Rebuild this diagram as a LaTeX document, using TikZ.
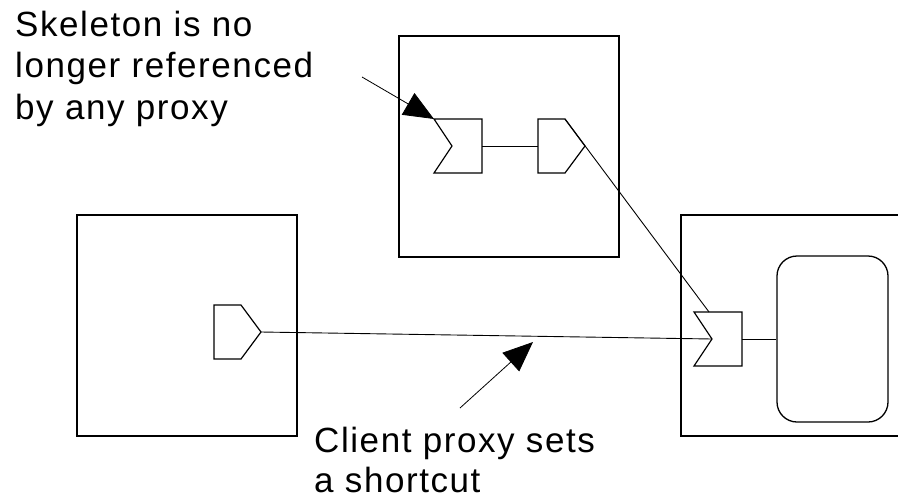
\documentclass[tikz,border=0pt]{standalone}
\usepackage{fontspec}
\setmainfont{Liberation Sans}[LetterSpace=4.5]
\usetikzlibrary{calc,arrows.meta}
\tikzset{
	box/.style={draw,line width=1.3pt,minimum width=220pt,minimum height=221pt,inner sep=0pt},
	wire/.style={line width=0.9pt},
	pointer/.style={-{Triangle[length=30pt,width=25pt]},line width=0.8pt},
	caption/.style={anchor=base west,inner sep=0pt,font=\fontsize{35pt}{42pt}\selectfont},
}
\newcommand{\makeskel}[3]{
	\coordinate (#1) at (#2,#3);
	\coordinate (#1-ne) at ($(#1) + (48,0)$);
	\coordinate (#1-top) at ($(#1) + (15,0)$);
	\coordinate (#1-notch) at ($(#1) + (18,27)$);
	\coordinate (#1-e) at ($(#1) + (48,27)$);
	\draw[line width=1.2pt] (#1) -- (#1-ne) -- ($(#1) + (48,54)$) -- ($(#1) + (0,54)$) -- (#1-notch) -- cycle;
}
\newcommand{\makeproxy}[3]{
	\coordinate (#1) at (#2,#3);
	\coordinate (#1-w) at ($(#1) + (0,27)$);
	\coordinate (#1-ne) at ($(#1) + (27,0)$);
	\coordinate (#1-tip) at ($(#1) + (47,27)$);
	\draw[line width=1.2pt] (#1) -- (#1-ne) -- (#1-tip) -- ($(#1) + (27,54)$) -- ($(#1) + (0,54)$) -- cycle;
}
\begin{document}
\begin{tikzpicture}[x=1pt,y=-1pt]
	\useasboundingbox (0,0) rectangle (898,499);
	\clip (0,0) rectangle (898,499);
	% the three address spaces
	\node[box] (server) at (509,146.5) {};
	\node[box] (client) at (187,325.5) {};
	\node[box] (target) at (791,325.5) {};
	\node[draw,line width=1.3pt,rounded corners=20pt,minimum width=111pt,minimum height=166pt] (obj) at (832.5,339) {};
	% proxies and skeletons
	\makeskel{oldskel}{434}{119}
	\makeproxy{midproxy}{538}{119}
	\makeproxy{cproxy}{214}{305}
	\makeskel{tskel}{694}{312}
		\draw[wire] (oldskel-e) -- (midproxy-w);
		\draw[wire] (midproxy-ne) -- (tskel-top);
		\draw[wire] (cproxy-tip) -- (tskel-notch);
		\draw[wire] (tskel-e) -- (obj.west);
	% notes
	\node[caption] (S1) at (15,36) {Skeleton is no};
	\node[caption] (S2) at ($(S1.base west) + (0,41)$) {longer referenced};
	\node[caption] (S3) at ($(S2.base west) + (0,42)$) {by any proxy};
	\coordinate (skelnote) at (362,77);
	\draw[pointer] (skelnote) -- (oldskel);
	\node[caption] (C1) at (314,452) {Client proxy sets};
	\node[caption] (C2) at ($(C1.base west) + (0,40)$) {a shortcut};
	\coordinate (shortnote) at (460,408);
	\coordinate (shorttip) at (533,342);
	\draw[pointer] (shortnote) -- (shorttip);
\end{tikzpicture}
\end{document}
